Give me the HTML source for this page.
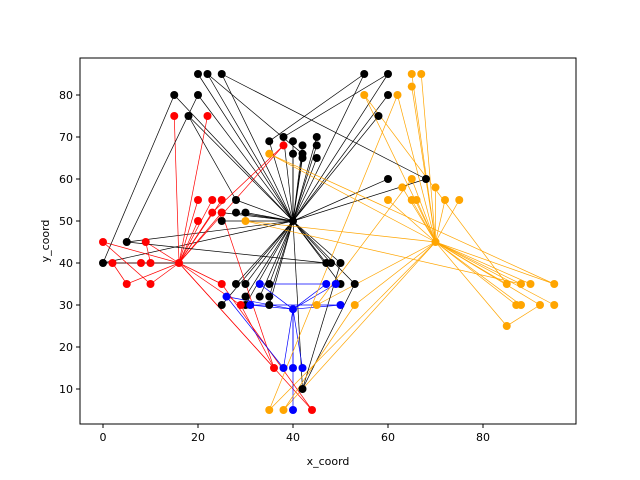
<!DOCTYPE html>
<html><head><meta charset="utf-8"><style>body{margin:0;background:#fff}svg{display:block;font-family:"DejaVu Sans","Liberation Sans",sans-serif}</style></head>
<body>
<svg id="c" width="640" height="480"></svg>
<script>
const xTicks=[0,20,40,60,80];
const yTicks=[10,20,30,40,50,60,70,80];
const depots=[[40,50],[16,40],[70,45],[40,29]];
const colors=["black","red","orange","blue"];
const blackPts=[[20,85],[22,85],[25,85],[15,80],[20,80],[18,75],[35,69],[38,70],[40,69],[42,68],[45,70],[45,68],[40,66],[42,66],[42,65],[45,65],[28,55],[25,50],[28,52],[30,52],[25,52],[55,85],[60,85],[60,80],[58,75],[60,60],[68,60],[5,45],[0,40],[47,40],[48,40],[50,40],[28,35],[30,35],[35,35],[33,32],[35,32],[30,32],[25,30],[30,30],[35,30],[50,35],[53,35],[42,10]];
const redPts=[[15,75],[22,75],[38,68],[0,45],[9,45],[2,40],[8,40],[10,40],[5,35],[10,35],[25,35],[29,30],[36,15],[44,5],[20,50],[23,55],[25,55],[20,55],[23,52],[25,52]];
const orangePts=[[65,85],[67,85],[65,82],[55,80],[62,80],[35,66],[30,50],[65,60],[63,58],[70,58],[60,55],[65,55],[66,55],[72,55],[75,55],[85,35],[88,35],[90,35],[95,35],[87,30],[88,30],[92,30],[95,30],[85,25],[45,30],[53,30],[35,5],[38,5]];
const bluePts=[[26,32],[33,35],[31,30],[47,35],[49,35],[50,30],[38,15],[40,15],[42,15],[40,5]];
const groups=[blackPts,redPts,orangePts,bluePts];
// extra route segments between customers: [group, [x1,y1], [x2,y2]]
const extraEdges=[
 [0,[0,40],[15,80]],[0,[5,45],[20,80]],[0,[18,75],[28,55]],[0,[25,85],[68,60]],[0,[22,85],[42,66]],
 [0,[55,85],[35,69]],[0,[60,85],[38,70]],[0,[5,45],[47,40]],[0,[0,40],[48,40]],[0,[53,35],[42,10]],[0,[50,40],[42,10]],
 [1,[0,45],[10,35]],[1,[9,45],[10,40]],[1,[5,35],[2,40]],[1,[44,5],[25,35]],[1,[36,15],[25,52]],[1,[29,30],[36,15]],[1,[38,68],[23,52]],
 [2,[55,80],[85,35]],[2,[62,80],[35,5]],[2,[35,66],[95,35]],[2,[30,50],[88,35]],[2,[45,30],[65,60]],[2,[53,30],[38,5]],[2,[85,25],[92,30]],
 [3,[26,32],[38,15]],[3,[33,35],[47,35]],[3,[31,30],[50,30]]
];
const L=80,R=576,T=58,B=424;
const sx=v=>103+v*4.75, sy=v=>431-v*4.2;
const NS="http://www.w3.org/2000/svg";
const svg=document.getElementById('c');
function mk(t,a){const e=document.createElementNS(NS,t);for(const k in a)e.setAttribute(k,a[k]);svg.appendChild(e);return e;}
groups.forEach((g,i)=>{g.forEach(p=>{
 const l=mk('line',{x1:sx(depots[i][0]),y1:sy(depots[i][1]),x2:sx(p[0]),y2:sy(p[1]),stroke:colors[i],'stroke-width':0.7});
 
 
});});
extraEdges.forEach(e=>{
 const l=mk('line',{x1:sx(e[1][0]),y1:sy(e[1][1]),x2:sx(e[2][0]),y2:sy(e[2][1]),stroke:colors[e[0]],'stroke-width':0.7});
 
 
});
groups.forEach((g,i)=>{g.concat([depots[i]]).forEach(p=>{
 const c=mk('circle',{cx:sx(p[0]),cy:sy(p[1]),r:4,fill:colors[i]});
 
 
});});
const f=mk('rect',{x:L,y:T,width:R-L,height:B-T,fill:'none',stroke:'#000','stroke-width':1});


xTicks.forEach(v=>{mk('line',{x1:sx(v),x2:sx(v),y1:B,y2:B+4,stroke:'#000'});
 const t=mk('text',{x:sx(v),y:B+17,'font-size':11,'text-anchor':'middle'});t.textContent=v;
 
 });
yTicks.forEach(v=>{mk('line',{x1:L-4,x2:L,y1:sy(v),y2:sy(v),stroke:'#000'});
 const t=mk('text',{x:L-7,y:sy(v)+4,'font-size':11,'text-anchor':'end'});t.textContent=v;
 
 });
const xt=mk('text',{x:328,y:465,'font-size':11,'text-anchor':'middle'});xt.textContent='x_coord';


const yt=mk('text',{x:49,y:241,'font-size':11,'text-anchor':'middle',transform:'rotate(-90 49 241)'});yt.textContent='y_coord';


</script>
</body></html>
